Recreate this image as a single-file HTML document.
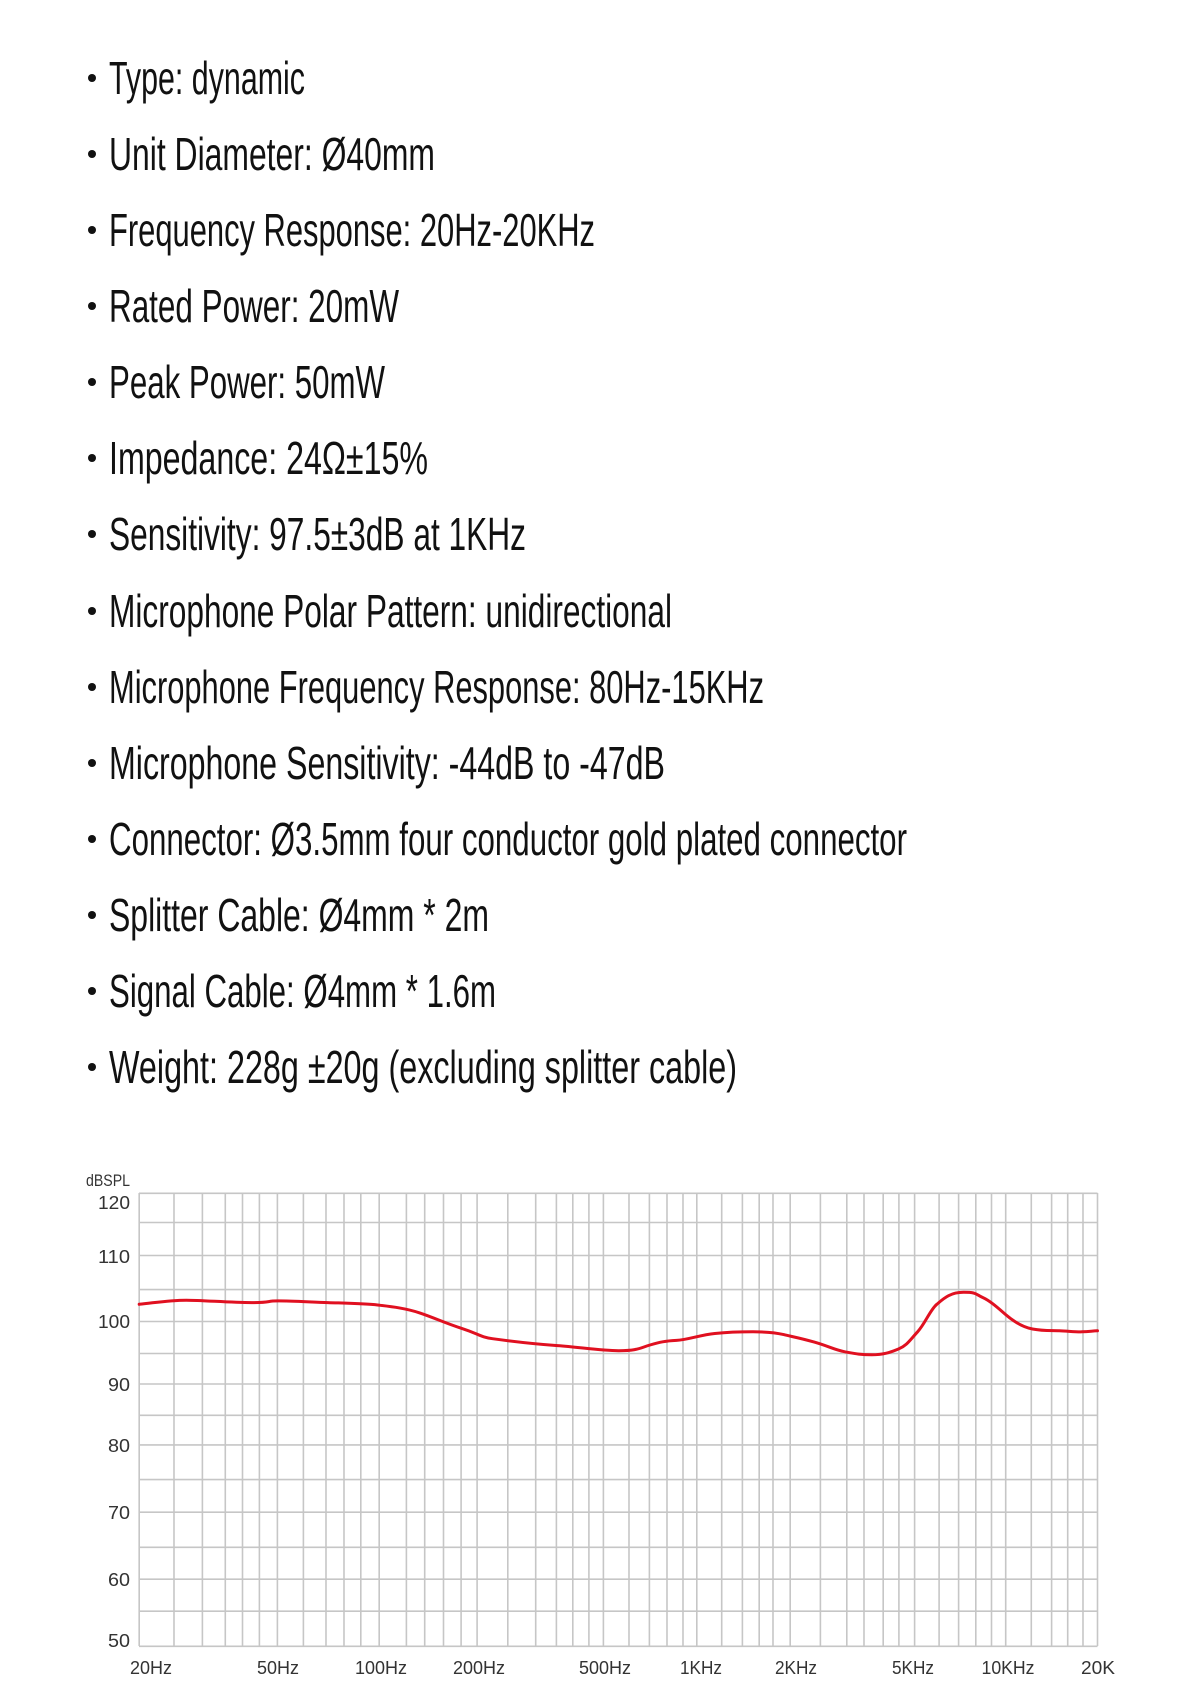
<!DOCTYPE html>
<html><head><meta charset="utf-8"><style>html,body{margin:0;padding:0;background:#fff}svg{display:block}</style></head>
<body>
<svg width="1200" height="1699" viewBox="0 0 1200 1699" xmlns="http://www.w3.org/2000/svg">
<rect width="1200" height="1699" fill="#fff"/>
<g font-family="Liberation Sans, sans-serif" font-size="46" fill="#111">
<g fill="#111">
<circle cx="92" cy="78" r="4"/><circle cx="92" cy="154" r="4"/><circle cx="92" cy="230" r="4"/><circle cx="92" cy="306" r="4"/><circle cx="92" cy="382" r="4"/><circle cx="92" cy="458" r="4"/><circle cx="92" cy="534" r="4"/><circle cx="92" cy="611" r="4"/><circle cx="92" cy="687" r="4"/><circle cx="92" cy="763" r="4"/><circle cx="92" cy="839" r="4"/><circle cx="92" cy="915" r="4"/><circle cx="92" cy="991" r="4"/><circle cx="92" cy="1067" r="4"/>
</g>
<text x="109" y="94" textLength="196" lengthAdjust="spacingAndGlyphs">Type: dynamic</text>
<text x="109" y="170" textLength="326" lengthAdjust="spacingAndGlyphs">Unit Diameter: Ø40mm</text>
<text x="109" y="246" textLength="486" lengthAdjust="spacingAndGlyphs">Frequency Response: 20Hz-20KHz</text>
<text x="109" y="322" textLength="290" lengthAdjust="spacingAndGlyphs">Rated Power: 20mW</text>
<text x="109" y="398" textLength="276" lengthAdjust="spacingAndGlyphs">Peak Power: 50mW</text>
<text x="109" y="474" textLength="319" lengthAdjust="spacingAndGlyphs">Impedance: 24Ω±15%</text>
<text x="109" y="550" textLength="417" lengthAdjust="spacingAndGlyphs">Sensitivity: 97.5±3dB at 1KHz</text>
<text x="109" y="627" textLength="563" lengthAdjust="spacingAndGlyphs">Microphone Polar Pattern: unidirectional</text>
<text x="109" y="703" textLength="655" lengthAdjust="spacingAndGlyphs">Microphone Frequency Response: 80Hz-15KHz</text>
<text x="109" y="779" textLength="556" lengthAdjust="spacingAndGlyphs">Microphone Sensitivity: -44dB to -47dB</text>
<text x="109" y="855" textLength="798" lengthAdjust="spacingAndGlyphs">Connector: Ø3.5mm four conductor gold plated connector</text>
<text x="109" y="931" textLength="380" lengthAdjust="spacingAndGlyphs">Splitter Cable: Ø4mm * 2m</text>
<text x="109" y="1007" textLength="387" lengthAdjust="spacingAndGlyphs">Signal Cable: Ø4mm * 1.6m</text>
<text x="109" y="1083" textLength="628" lengthAdjust="spacingAndGlyphs">Weight: 228g ±20g (excluding splitter cable)</text>
</g>
<g stroke="#c6c6c6" stroke-width="1.6" fill="none">
<path d="M139 1193.3H1097.5M139 1222.5H1097.5M139 1255.5H1097.5M139 1289.6H1097.5M139 1321.5H1097.5M139 1353.5H1097.5M139 1384H1097.5M139 1415.3H1097.5M139 1444.9H1097.5M139 1479.6H1097.5M139 1512.2H1097.5M139 1547.3H1097.5M139 1579.2H1097.5M139 1611.2H1097.5M139 1646.3H1097.5"/>
<path d="M139.2 1193V1646M174 1193V1646M202.4 1193V1646M225.3 1193V1646M242.5 1193V1646M259.4 1193V1646M277.4 1193V1646M303.4 1193V1646M326 1193V1646M344 1193V1646M360.8 1193V1646M379.2 1193V1646M406.4 1193V1646M424.7 1193V1646M443.5 1193V1646M461.1 1193V1646M477.1 1193V1646M507.8 1193V1646M535.7 1193V1646M556.4 1193V1646M572.8 1193V1646M588.9 1193V1646M603.4 1193V1646M629 1193V1646M649.4 1193V1646M667 1193V1646M683 1193V1646M696.8 1193V1646M721.7 1193V1646M742.4 1193V1646M759.2 1193V1646M773 1193V1646M790.2 1193V1646M820.4 1193V1646M846.8 1193V1646M864 1193V1646M883.2 1193V1646M898.9 1193V1646M914.6 1193V1646M939.1 1193V1646M958.6 1193V1646M975.8 1193V1646M991.5 1193V1646M1005.7 1193V1646M1031.3 1193V1646M1051.6 1193V1646M1067.7 1193V1646M1083 1193V1646M1097.5 1193V1646"/>
</g>
<g font-family="Liberation Sans, sans-serif" font-size="18" fill="#333">
<text x="86" y="1186" font-size="17" textLength="44" lengthAdjust="spacingAndGlyphs">dBSPL</text>
<g text-anchor="end">
<text x="130" y="1209" textLength="32" lengthAdjust="spacingAndGlyphs">120</text>
<text x="130" y="1263" textLength="32" lengthAdjust="spacingAndGlyphs">110</text>
<text x="130" y="1328" textLength="32" lengthAdjust="spacingAndGlyphs">100</text>
<text x="130" y="1391" textLength="22" lengthAdjust="spacingAndGlyphs">90</text>
<text x="130" y="1452" textLength="22" lengthAdjust="spacingAndGlyphs">80</text>
<text x="130" y="1519" textLength="22" lengthAdjust="spacingAndGlyphs">70</text>
<text x="130" y="1586" textLength="22" lengthAdjust="spacingAndGlyphs">60</text>
<text x="130" y="1647" textLength="22" lengthAdjust="spacingAndGlyphs">50</text>
</g>
<g text-anchor="middle">
<text x="151" y="1674" textLength="42" lengthAdjust="spacingAndGlyphs">20Hz</text>
<text x="278" y="1674" textLength="42" lengthAdjust="spacingAndGlyphs">50Hz</text>
<text x="381" y="1674" textLength="52" lengthAdjust="spacingAndGlyphs">100Hz</text>
<text x="479" y="1674" textLength="52" lengthAdjust="spacingAndGlyphs">200Hz</text>
<text x="605" y="1674" textLength="52" lengthAdjust="spacingAndGlyphs">500Hz</text>
<text x="701" y="1674" textLength="42" lengthAdjust="spacingAndGlyphs">1KHz</text>
<text x="796" y="1674" textLength="42" lengthAdjust="spacingAndGlyphs">2KHz</text>
<text x="913" y="1674" textLength="42" lengthAdjust="spacingAndGlyphs">5KHz</text>
<text x="1008" y="1674" textLength="53" lengthAdjust="spacingAndGlyphs">10KHz</text>
<text x="1098" y="1674" textLength="34" lengthAdjust="spacingAndGlyphs">20K</text>
</g>
</g>
<path fill="none" stroke="#e01020" stroke-width="3" stroke-linejoin="round" stroke-linecap="round"
d="M139.2 1304.3 C160 1302 170 1300.2 186.3 1300.2 S230 1302.6 251.4 1302.6 S265 1300.9 278.1 1300.9 S310 1302 327.9 1302.6 S365 1303.5 377.6 1305 S405 1308 419.7 1312.9 S445 1323 461.8 1328.4 S480 1337 492.5 1338.7 S535 1344 557.5 1345.6 S600 1350.7 618.7 1350.7 S640 1348 650 1345 S665 1341 676.5 1340.4 S700 1335 714.8 1333.5 S740 1331.8 753 1331.8 S775 1332.5 783.7 1334.6 S800 1338 814.3 1342.1 S835 1350 844.9 1351.8 S860 1354.8 871.7 1354.8 S890 1352.5 898.5 1349 S910 1340 917.6 1331.8 S930 1310 936.8 1304.3 S950 1292.3 963.6 1292.3 S975 1294 982.7 1297.5 S998 1308 1005.7 1314.6 S1022 1327 1032.5 1329 S1050 1330.5 1059.2 1330.8 S1075 1332 1082.2 1331.8 S1092 1331 1097.5 1330.8"/>
</svg>
</body></html>
